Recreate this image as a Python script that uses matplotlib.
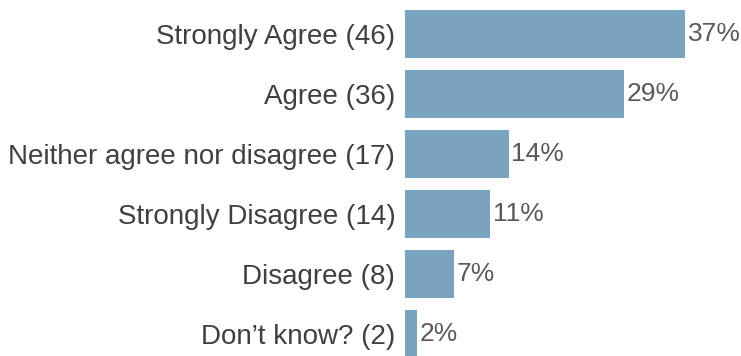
import matplotlib.pyplot as plt

# survey responses, top to bottom
labels = ['Strongly Agree', 'Agree', 'Neither agree nor disagree',
          'Strongly Disagree', 'Disagree', 'Don\u2019t know?']
counts = [46, 36, 17, 14, 8, 2]

total = sum(counts)
pct = [c / total * 100 for c in counts]
tick_labels = [f'{l} ({c})' for l, c in zip(labels, counts)]

plt.rcParams['font.family'] = ['Liberation Sans', 'DejaVu Sans']

fig = plt.figure(figsize=(7.41, 3.56), dpi=100)
ax = fig.add_axes([405 / 741, 0, 336 / 741, 1])

ypos = list(range(len(labels)))
bars = ax.barh(ypos, pct, height=0.8, color='#7aa3bf')

# percent labels at the end of each bar
for y, p in zip(ypos, pct):
    ax.text(p + 0.35, y, f'{p:.0f}%', va='center', ha='left',
            fontsize=19, color='#595959')

ax.set_yticks(ypos)
ax.set_yticklabels(tick_labels, fontsize=20, color='#404040')
ax.tick_params(axis='y', length=0, pad=7)
ax.set_xticks([])
ax.set_xlim(0, 336 / 7.49)
ax.set_ylim((356 - 34) / 60, -34 / 60)
for s in ax.spines.values():
    s.set_visible(False)

fig.savefig('out.png', dpi=100)
